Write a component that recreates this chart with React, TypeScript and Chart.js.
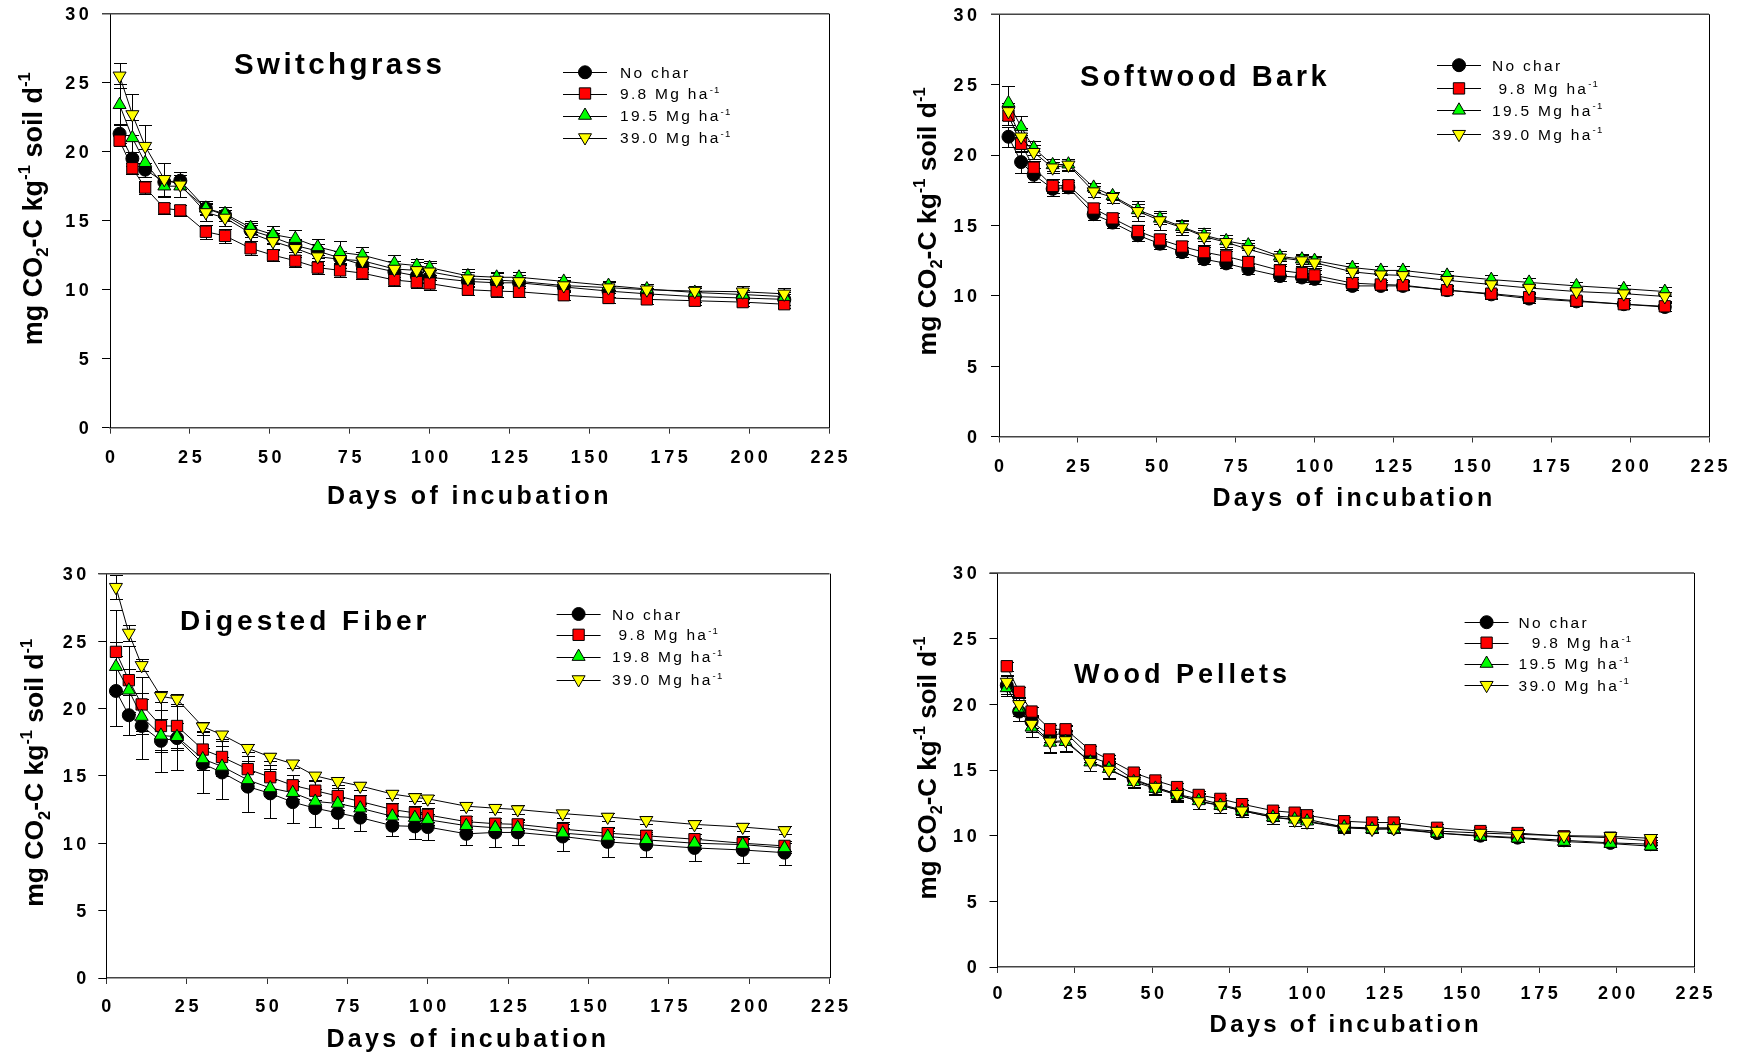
import React, { useEffect, useRef } from 'react';
import { Chart, registerables, PointElement } from 'chart.js';

Chart.register(...registerables);

const FONT = "'Liberation Sans', Arial, Helvetica, sans-serif";

// ---------------- data ----------------
const days = [3, 7, 11, 17, 22, 30, 36, 44, 51, 58, 65, 72, 79, 89, 96, 100, 112, 121, 128, 142, 156, 168, 183, 198, 211];

// Switchgrass
const sgNoChar = [21.3, 19.5, 18.7, 17.8, 17.9, 15.9, 15.4, 14.3, 13.8, 13.2, 12.8, 12.3, 11.8, 11.3, 11.0, 10.9, 10.6, 10.5, 10.5, 10.2, 9.9, 9.7, 9.5, 9.4, 9.3];
const sgR98 = [20.8, 18.8, 17.4, 15.9, 15.75, 14.2, 13.9, 13.0, 12.5, 12.1, 11.6, 11.4, 11.2, 10.7, 10.55, 10.45, 10.0, 9.9, 9.85, 9.6, 9.4, 9.3, 9.2, 9.1, 8.95];
const sgR195 = [23.4, 21.0, 19.2, 17.5, 17.5, 15.9, 15.5, 14.5, 14.0, 13.7, 13.1, 12.7, 12.5, 11.9, 11.75, 11.6, 11.0, 10.9, 10.9, 10.6, 10.3, 10.05, 9.8, 9.65, 9.5];
const sgR390 = [25.5, 22.7, 20.4, 18.0, 17.6, 15.6, 15.2, 14.1, 13.5, 13.0, 12.4, 12.2, 12.1, 11.5, 11.4, 11.3, 10.8, 10.7, 10.6, 10.3, 10.15, 10.0, 9.9, 9.85, 9.7];
const sgErrNoChar = [0.7, 0.5, 0.5, 0.5, 0.6, 0.4, 0.4, 0.5, 0.5, 0.5, 0.5, 0.5, 0.5, 0.5, 0.5, 0.5, 0.4, 0.4, 0.4, 0.4, 0.4, 0.4, 0.4, 0.4, 0.4];
const sgErrR98 = [0.4, 0.4, 0.5, 0.4, 0.4, 0.5, 0.5, 0.5, 0.45, 0.45, 0.45, 0.45, 0.4, 0.45, 0.45, 0.45, 0.4, 0.4, 0.4, 0.35, 0.35, 0.35, 0.3, 0.3, 0.3];
const sgErrR195 = [1.5, 1.3, 1.0, 0.8, 0.8, 0.5, 0.5, 0.5, 0.6, 0.6, 0.6, 0.8, 0.6, 0.6, 0.45, 0.5, 0.5, 0.4, 0.4, 0.35, 0.35, 0.35, 0.35, 0.35, 0.3];
const sgErrR390 = [0.9, 1.5, 1.5, 1.2, 0.9, 0.6, 0.6, 0.6, 0.6, 0.6, 0.6, 0.6, 0.6, 0.6, 0.6, 0.6, 0.5, 0.5, 0.5, 0.4, 0.4, 0.4, 0.4, 0.4, 0.4];

// Softwood Bark
const sbNoChar = [21.3, 19.5, 18.6, 17.6, 17.7, 15.8, 15.2, 14.3, 13.7, 13.1, 12.6, 12.3, 11.9, 11.4, 11.3, 11.2, 10.7, 10.7, 10.7, 10.4, 10.1, 9.8, 9.6, 9.4, 9.2];
const sbR98 = [22.8, 20.8, 19.1, 17.8, 17.85, 16.2, 15.5, 14.6, 14.0, 13.5, 13.1, 12.8, 12.4, 11.8, 11.6, 11.45, 10.9, 10.8, 10.75, 10.4, 10.15, 9.9, 9.65, 9.4, 9.25];
const sbR195 = [23.7, 22.0, 20.5, 19.3, 19.35, 17.7, 17.1, 16.1, 15.5, 14.9, 14.3, 13.9, 13.6, 12.8, 12.6, 12.5, 12.0, 11.8, 11.8, 11.45, 11.15, 10.95, 10.7, 10.5, 10.3];
const sbR390 = [23.1, 21.3, 20.2, 19.1, 19.3, 17.4, 17.0, 16.0, 15.35, 14.85, 14.2, 13.8, 13.3, 12.7, 12.5, 12.35, 11.7, 11.5, 11.45, 11.1, 10.8, 10.55, 10.3, 10.15, 9.95];
const sbErrNoChar = [0.7, 0.8, 0.5, 0.5, 0.4, 0.4, 0.4, 0.4, 0.35, 0.35, 0.35, 0.35, 0.35, 0.35, 0.35, 0.35, 0.3, 0.3, 0.3, 0.3, 0.3, 0.3, 0.3, 0.3, 0.3];
const sbErrR98 = [0.7, 0.6, 0.5, 0.5, 0.4, 0.4, 0.4, 0.4, 0.4, 0.4, 0.4, 0.4, 0.35, 0.35, 0.35, 0.35, 0.3, 0.3, 0.3, 0.3, 0.3, 0.3, 0.3, 0.3, 0.3];
const sbErrR195 = [1.2, 0.75, 0.5, 0.4, 0.4, 0.3, 0.3, 0.4, 0.4, 0.4, 0.4, 0.4, 0.35, 0.35, 0.35, 0.35, 0.35, 0.3, 0.3, 0.3, 0.3, 0.3, 0.3, 0.3, 0.3];
const sbErrR390 = [0.6, 0.6, 0.5, 0.4, 0.4, 0.4, 0.4, 0.7, 0.65, 0.55, 0.6, 0.5, 0.45, 0.45, 0.4, 0.4, 0.4, 0.35, 0.35, 0.35, 0.3, 0.3, 0.3, 0.3, 0.3];

// Digested Fiber
const dfNoChar = [21.3, 19.5, 18.7, 17.6, 17.8, 15.9, 15.25, 14.2, 13.7, 13.05, 12.6, 12.25, 11.9, 11.3, 11.25, 11.2, 10.7, 10.8, 10.8, 10.5, 10.1, 9.9, 9.65, 9.5, 9.3];
const dfR98 = [24.2, 22.1, 20.3, 18.7, 18.7, 16.95, 16.4, 15.5, 14.9, 14.3, 13.9, 13.5, 13.1, 12.5, 12.25, 12.1, 11.6, 11.45, 11.4, 11.05, 10.75, 10.55, 10.3, 10.0, 9.8];
const dfR198 = [23.1, 21.35, 19.4, 18.0, 17.9, 16.25, 15.7, 14.7, 14.1, 13.75, 13.1, 12.95, 12.6, 12.0, 11.9, 11.75, 11.3, 11.15, 11.15, 10.75, 10.5, 10.25, 10.0, 9.9, 9.65];
const dfR390 = [29.0, 25.6, 23.2, 20.9, 20.7, 18.65, 18.05, 17.05, 16.4, 15.9, 15.0, 14.6, 14.25, 13.65, 13.4, 13.3, 12.75, 12.6, 12.5, 12.2, 11.95, 11.7, 11.4, 11.2, 10.95];
const dfErrNoChar = [2.6, 1.5, 2.45, 2.3, 2.4, 2.15, 1.95, 1.9, 1.8, 1.55, 1.4, 1.1, 1.0, 0.8, 0.95, 0.95, 0.85, 1.05, 0.95, 1.1, 1.1, 0.95, 1.0, 1.0, 0.9];
const dfErrR98 = [3.1, 2.5, 2.0, 1.8, 1.6, 1.3, 1.2, 1.0, 0.9, 0.8, 0.7, 0.6, 0.5, 0.5, 0.5, 0.5, 0.4, 0.4, 0.4, 0.4, 0.4, 0.4, 0.4, 0.4, 0.4];
const dfErrR198 = [1.8, 1.6, 1.3, 1.2, 1.0, 0.8, 0.7, 0.6, 0.6, 0.5, 0.5, 0.5, 0.4, 0.4, 0.4, 0.4, 0.4, 0.4, 0.4, 0.4, 0.4, 0.4, 0.4, 0.4, 0.4];
const dfErrR390 = [0.9, 0.6, 0.45, 0.4, 0.35, 0.35, 0.3, 0.3, 0.3, 0.3, 0.3, 0.3, 0.3, 0.3, 0.3, 0.3, 0.3, 0.3, 0.3, 0.3, 0.3, 0.3, 0.3, 0.3, 0.3];

// Wood Pellets
const wpNoChar = [21.45, 19.45, 18.7, 17.6, 17.85, 16.0, 15.5, 14.3, 13.7, 13.15, 12.8, 12.4, 11.95, 11.5, 11.4, 11.25, 10.65, 10.6, 10.6, 10.2, 10.0, 9.85, 9.65, 9.45, 9.35];
const wpR98 = [22.9, 20.95, 19.45, 18.1, 18.1, 16.5, 15.8, 14.8, 14.2, 13.7, 13.1, 12.8, 12.4, 11.9, 11.75, 11.55, 11.1, 11.0, 11.0, 10.6, 10.35, 10.2, 9.95, 9.85, 9.6];
const wpR195 = [21.25, 19.7, 18.25, 17.1, 17.15, 15.6, 15.1, 14.1, 13.6, 13.1, 12.65, 12.3, 11.9, 11.4, 11.25, 11.1, 10.65, 10.5, 10.5, 10.2, 9.95, 9.8, 9.55, 9.4, 9.2];
const wpR390 = [21.7, 20.0, 18.5, 17.15, 17.25, 15.6, 15.0, 14.2, 13.7, 13.15, 12.6, 12.3, 11.9, 11.4, 11.2, 11.05, 10.6, 10.5, 10.55, 10.35, 10.2, 10.1, 10.0, 9.95, 9.8];
const wpErrNoChar = [0.7, 0.7, 0.5, 0.5, 0.5, 0.4, 0.4, 0.4, 0.4, 0.4, 0.35, 0.35, 0.35, 0.35, 0.35, 0.35, 0.3, 0.3, 0.3, 0.3, 0.3, 0.3, 0.3, 0.3, 0.3];
const wpErrR98 = [0.35, 0.4, 0.35, 0.35, 0.35, 0.35, 0.35, 0.3, 0.3, 0.3, 0.3, 0.3, 0.3, 0.3, 0.3, 0.3, 0.3, 0.3, 0.3, 0.3, 0.3, 0.3, 0.3, 0.3, 0.3];
const wpErrR195 = [0.6, 0.6, 0.75, 0.8, 0.8, 0.7, 0.7, 0.5, 0.5, 0.5, 0.6, 0.6, 0.5, 0.5, 0.5, 0.5, 0.4, 0.3, 0.3, 0.3, 0.3, 0.3, 0.3, 0.3, 0.3];
const wpErrR390 = [0.5, 0.5, 0.6, 0.8, 0.8, 0.7, 0.7, 0.5, 0.5, 0.5, 0.6, 0.6, 0.5, 0.5, 0.5, 0.5, 0.4, 0.3, 0.3, 0.3, 0.3, 0.3, 0.3, 0.3, 0.3];

// text
const panelTitles = ['Switchgrass', 'Softwood Bark', 'Digested Fiber', 'Wood Pellets'];
const sgLegend = ['No char', '9.8 Mg ha^-1', '19.5 Mg ha^-1', '39.0 Mg ha^-1'];
const sbLegend = ['No char', ' 9.8 Mg ha^-1', '19.5 Mg ha^-1', '39.0 Mg ha^-1'];
const dfLegend = ['No char', ' 9.8 Mg ha^-1', '19.8 Mg ha^-1', '39.0 Mg ha^-1'];
const wpLegend = ['No char', '  9.8 Mg ha^-1', '19.5 Mg ha^-1', '39.0 Mg ha^-1'];
const yTitleText = 'mg CO_2-C kg^-1 soil d^-1';
const xTitleText = 'Days of incubation';
const xMin = 0, xMax = 225, xStep = 25;
const yMin = 0, yMax = 30, yStep = 5;

const panelData = [
  { series: [sgNoChar, sgR98, sgR195, sgR390], errors: [sgErrNoChar, sgErrR98, sgErrR195, sgErrR390], legend: sgLegend },
  { series: [sbNoChar, sbR98, sbR195, sbR390], errors: [sbErrNoChar, sbErrR98, sbErrR195, sbErrR390], legend: sbLegend },
  { series: [dfNoChar, dfR98, dfR198, dfR390], errors: [dfErrNoChar, dfErrR98, dfErrR198, dfErrR390], legend: dfLegend },
  { series: [wpNoChar, wpR98, wpR195, wpR390], errors: [wpErrNoChar, wpErrR98, wpErrR195, wpErrR390], legend: wpLegend },
];

// ---------------- styles / layout ----------------
const seriesStyles = [
  { pointStyle: 'circle', radius: 6.5, rotation: 0, fill: '#000000' },
  { pointStyle: 'rect', radius: 8, rotation: 0, fill: '#FF0000' },
  { pointStyle: 'triangle', radius: 7.5, rotation: 0, fill: '#00FF00' },
  { pointStyle: 'triangle', radius: 7.5, rotation: 180, fill: '#FFFF00' },
];

const layouts = [
  {
    box: { x: 0, y: 0, w: 871, h: 527 }, area: { l: 110, t: 13.7, r: 829, b: 427.7 },
    title: { x: 234, y: 74, size: 29.5, ls: 3.4 },
    legend: { x: 563, tx: 620, rows: [72.3, 93.5, 115.5, 137.5] },
    yTitleX: 41.6, yTitleSize: 27, yTitleDy: -12,
    xTitleDy: 76.7, xTitleSize: 25, xTitleLs: 3.4, yLabelGap: 21.2, xLabelDy: 28.6,
  },
  {
    box: { x: 871, y: 0, w: 872, h: 527 }, area: { l: 999, t: 14.3, r: 1709, b: 436.5 },
    title: { x: 1080, y: 86, size: 29, ls: 3.5 },
    legend: { x: 1437, tx: 1492, rows: [65.2, 88.4, 110.3, 134.2] },
    yTitleX: 935.7, yTitleSize: 26.5, yTitleDy: -4,
    xTitleDy: 69, xTitleSize: 25, xTitleLs: 3.3, yLabelGap: 22, xLabelDy: 29,
  },
  {
    box: { x: 0, y: 527, w: 871, h: 527 }, area: { l: 106.3, t: 573.7, r: 829.5, b: 978 },
    title: { x: 180, y: 630, size: 28, ls: 4 },
    legend: { x: 556.6, tx: 612, rows: [614, 634.8, 656.6, 679.5] },
    yTitleX: 43.3, yTitleSize: 26.5, yTitleDy: -3,
    xTitleDy: 69, xTitleSize: 25, xTitleLs: 3.3, yLabelGap: 20, xLabelDy: 27.8,
  },
  {
    box: { x: 871, y: 527, w: 872, h: 527 }, area: { l: 997.5, t: 573, r: 1694, b: 967 },
    title: { x: 1074, y: 683.3, size: 27, ls: 4 },
    legend: { x: 1464.6, tx: 1518.6, rows: [622.2, 642.7, 663.5, 685.2] },
    yTitleX: 935.7, yTitleSize: 26, yTitleDy: -2,
    xTitleDy: 65, xTitleSize: 24, xTitleLs: 3.2, yLabelGap: 20.8, xLabelDy: 26,
  },
];

const TICK_SIZE = 18;
const TICK_LS = 3.6;
const LEGEND_SIZE = 15.5;
const XH = 30;

type Seg = { t: string; kind: 'n' | 'sup' | 'sub' };
function parseRich(str: string): Seg[] {
  return str.split(/(\^-?\d+|_\d+)/).filter((s) => s.length > 0).map((p) => {
    if (p[0] === '^') return { t: p.slice(1), kind: 'sup' as const };
    if (p[0] === '_') return { t: p.slice(1), kind: 'sub' as const };
    return { t: p, kind: 'n' as const };
  });
}

function drawRich(ctx: CanvasRenderingContext2D, str: string, x: number, y: number, size: number, weight: string, ls: number, align: 'left' | 'center') {
  const segs = parseRich(str);
  const setFont = (k: string) => {
    const s = k === 'n' ? size : size * 0.62;
    ctx.font = `${weight} ${s}px ${FONT}`;
    (ctx as any).letterSpacing = `${k === 'n' ? ls : ls * 0.5}px`;
  };
  ctx.textAlign = 'left';
  ctx.textBaseline = 'alphabetic';
  const widths = segs.map((s) => { setFont(s.kind); return ctx.measureText(s.t).width; });
  const total = widths.reduce((a, b) => a + b, 0);
  let cx = align === 'center' ? x - total / 2 : x;
  segs.forEach((s, i) => {
    setFont(s.kind);
    const dy = s.kind === 'sup' ? -size * 0.42 : s.kind === 'sub' ? size * 0.24 : 0;
    ctx.fillText(s.t, cx, y + dy);
    cx += widths[i];
  });
}

function makePlugin(idx: number) {
  const lay = layouts[idx];
  const pd = panelData[idx];
  const ox = lay.box.x, oy = lay.box.y;
  return {
    id: 'panelDecor' + idx,
    beforeDatasetsDraw(chart: any) {
      const ctx: CanvasRenderingContext2D = chart.ctx;
      const xs = chart.scales.x, ys = chart.scales.y;
      ctx.save();
      ctx.strokeStyle = '#000';
      ctx.lineWidth = 1;
      pd.errors.forEach((errs, i) => {
        pd.series[i].forEach((v, j) => {
          const px = Math.round(xs.getPixelForValue(days[j])) + 0.5;
          const top = Math.round(ys.getPixelForValue(v + errs[j])) + 0.5;
          const bot = Math.round(ys.getPixelForValue(v - errs[j])) + 0.5;
          ctx.beginPath();
          ctx.moveTo(px, top); ctx.lineTo(px, bot);
          ctx.moveTo(px - 6.5, top); ctx.lineTo(px + 6.5, top);
          ctx.moveTo(px - 6.5, bot); ctx.lineTo(px + 6.5, bot);
          ctx.stroke();
        });
      });
      ctx.restore();
    },
    afterDraw(chart: any) {
      const ctx: CanvasRenderingContext2D = chart.ctx;
      const xs = chart.scales.x, ys = chart.scales.y;
      const ca = chart.chartArea;
      ctx.save();
      // frame top & right
      ctx.strokeStyle = '#444';
      ctx.lineWidth = 1.5;
      ctx.beginPath();
      ctx.moveTo(ca.left - 8, ca.top); ctx.lineTo(ca.right, ca.top);
      ctx.stroke();
      ctx.strokeStyle = '#000';
      ctx.lineWidth = 1;
      ctx.beginPath();
      ctx.moveTo(Math.round(ca.right) + 0.5, ca.top); ctx.lineTo(Math.round(ca.right) + 0.5, ca.bottom);
      ctx.stroke();

      ctx.fillStyle = '#000';
      ctx.textAlign = 'left';
      ctx.textBaseline = 'alphabetic';
      // y tick labels
      ctx.font = `bold ${TICK_SIZE}px ${FONT}`;
      (ctx as any).letterSpacing = `${TICK_LS}px`;
      ys.ticks.forEach((t: any) => {
        const txt = String(t.value);
        const w = ctx.measureText(txt).width - TICK_LS;
        const y = ys.getPixelForValue(t.value) + 0.358 * TICK_SIZE;
        ctx.fillText(txt, ca.left - lay.yLabelGap - w, y);
      });
      // x tick labels
      xs.ticks.forEach((t: any) => {
        const txt = String(t.value);
        const w = ctx.measureText(txt).width - TICK_LS;
        const x = xs.getPixelForValue(t.value);
        ctx.fillText(txt, x - w / 2, ca.bottom + lay.xLabelDy + 0.358 * TICK_SIZE);
      });

      // panel title
      ctx.font = `bold ${lay.title.size}px ${FONT}`;
      (ctx as any).letterSpacing = `${lay.title.ls}px`;
      ctx.fillText(panelTitles[idx], lay.title.x - ox, lay.title.y - oy);

      // x title
      drawRich(ctx, xTitleText, (ca.left + ca.right) / 2, ca.bottom + lay.xTitleDy, lay.xTitleSize, 'bold', lay.xTitleLs, 'center');

      // y title
      ctx.save();
      ctx.translate(lay.yTitleX - ox, (ca.top + ca.bottom) / 2 + lay.yTitleDy);
      ctx.rotate(-Math.PI / 2);
      drawRich(ctx, yTitleText, 0, 0, lay.yTitleSize, 'bold', 0, 'center');
      ctx.restore();

      // legend
      const lg = lay.legend;
      pd.legend.forEach((label, i) => {
        const ry = lg.rows[i] - oy;
        const lx = lg.x - ox;
        ctx.strokeStyle = '#000';
        ctx.lineWidth = 1;
        ctx.beginPath();
        ctx.moveTo(lx, Math.round(ry) + 0.5);
        ctx.lineTo(lx + 44, Math.round(ry) + 0.5);
        ctx.stroke();
        const meta = chart.getDatasetMeta(i);
        const opts = meta.data[0].options;
        const el: any = new (PointElement as any)({ x: lx + 22, y: ry, options: opts, skip: false });
        el.draw(ctx);
        ctx.fillStyle = '#000';
        drawRich(ctx, label, lg.tx - ox, ry + 0.358 * LEGEND_SIZE, LEGEND_SIZE, 'normal', 2.3, 'left');
      });
      ctx.restore();
    },
  };
}

function Panel({ idx }: { idx: number }) {
  const ref = useRef<HTMLCanvasElement>(null);
  const lay = layouts[idx];
  useEffect(() => {
    const pd = panelData[idx];
    const { box, area } = lay;
    const yW = area.l - box.x;
    const padTop = area.t - box.y;
    const padRight = box.x + box.w - area.r;
    const padBottom = box.y + box.h - area.b - XH;
    const chart = new Chart(ref.current as HTMLCanvasElement, {
      type: 'scatter',
      data: {
        datasets: pd.series.map((vals, i) => ({
          label: pd.legend[i],
          data: days.map((d, j) => ({ x: d, y: vals[j] })),
          showLine: true,
          borderColor: '#000000',
          borderWidth: 1,
          pointStyle: seriesStyles[i].pointStyle as any,
          pointRadius: seriesStyles[i].radius,
          pointRotation: seriesStyles[i].rotation,
          pointBackgroundColor: seriesStyles[i].fill,
          pointBorderColor: '#000000',
          pointBorderWidth: 1,
          fill: false,
          tension: 0,
          order: 4 - i,
          clip: false as any,
        })),
      },
      options: {
        animation: false,
        responsive: false,
        maintainAspectRatio: false,
        devicePixelRatio: 1,
        events: [],
        layout: { padding: { left: 0, top: padTop, right: padRight, bottom: padBottom } },
        plugins: { legend: { display: false }, tooltip: { enabled: false }, title: { display: false } },
        scales: {
          x: {
            type: 'linear', position: 'bottom', min: xMin, max: xMax,
            ticks: { stepSize: xStep, display: false },
            grid: { drawOnChartArea: false, drawTicks: true, tickLength: 6, color: '#333', lineWidth: 1 },
            border: { display: true, color: '#444', width: 1.5 },
            afterFit: (s: any) => { s.height = XH; },
          },
          y: {
            type: 'linear', position: 'left', min: yMin, max: yMax,
            ticks: { stepSize: yStep, display: false },
            grid: { drawOnChartArea: false, drawTicks: true, tickLength: 8, color: '#000', lineWidth: 1 },
            border: { display: true, color: '#000', width: 1 },
            afterFit: (s: any) => { s.width = yW; },
          },
        },
      } as any,
      plugins: [makePlugin(idx)],
    });
    return () => chart.destroy();
  }, [idx]);
  return (
    <canvas
      ref={ref}
      width={lay.box.w}
      height={lay.box.h}
      style={{ position: 'absolute', left: lay.box.x, top: lay.box.y, width: lay.box.w, height: lay.box.h }}
    />
  );
}

export default function App() {
  return (
    <div style={{ position: 'fixed', left: 0, top: 0, width: 1743, height: 1054, background: '#ffffff', overflow: 'hidden' }}>
      {[0, 1, 2, 3].map((i) => <Panel key={i} idx={i} />)}
    </div>
  );
}
